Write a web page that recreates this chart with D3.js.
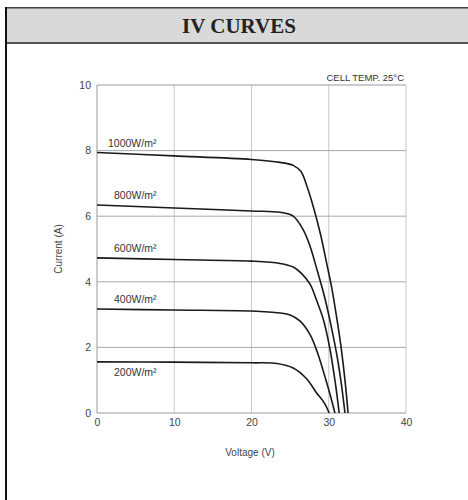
<!DOCTYPE html>
<html>
<head>
<meta charset="utf-8">
<script src="https://cdn.jsdelivr.net/npm/d3@7/dist/d3.min.js"></script>
<style>
    html, body { margin: 0; padding: 0; background: #fff; }
    svg { display: block; }
</style>
</head>
<body>
<svg id="chart" width="468" height="500"></svg>
<script>
// IV curves - one V/I list per irradiance level
const xTicks = [0, 10, 20, 30, 40];
const yTicks = [0, 2, 4, 6, 8, 10];
const seriesLabels = ['1000W/m²', '800W/m²', '600W/m²', '400W/m²', '200W/m²'];

const v1000 = [0, 10, 20, 23.7, 25.4, 26.4, 27.2, 28.0, 28.9, 29.7, 30.4, 31.1, 31.6, 32.1, 32.5];
const i1000 = [7.94, 7.84, 7.73, 7.64, 7.55, 7.36, 6.9, 6.29, 5.48, 4.6, 3.8, 2.8, 2.0, 1.0, 0];

const v800 = [0, 10, 20, 23.7, 25.4, 26.7, 27.6, 28.5, 29.5, 30.4, 31.1, 31.65, 32.1];
const i800 = [6.34, 6.25, 6.16, 6.12, 6.0, 5.58, 5.07, 4.35, 3.5, 2.55, 1.7, 0.85, 0];

const v600 = [0, 10, 20, 23.7, 25.4, 26.5, 27.6, 28.4, 29.3, 30.1, 30.8, 31.35];
const i600 = [4.73, 4.68, 4.63, 4.56, 4.45, 4.25, 3.92, 3.45, 2.85, 2.02, 1.0, 0];

const v400 = [0, 10, 20, 23.7, 25.0, 26.3, 27.6, 28.6, 29.7, 30.3, 30.8];
const i400 = [3.17, 3.14, 3.11, 3.05, 2.99, 2.8, 2.38, 1.8, 0.95, 0.45, 0];

const v200 = [0, 10, 20, 23.3, 25.4, 27.1, 28.4, 29.5, 30.05];
const i200 = [1.56, 1.55, 1.53, 1.51, 1.37, 1.05, 0.62, 0.28, 0];

const series = [
    { label: seriesLabels[0], v: v1000, i: i1000 },
    { label: seriesLabels[1], v: v800, i: i800 },
    { label: seriesLabels[2], v: v600, i: i600 },
    { label: seriesLabels[3], v: v400, i: i400 },
    { label: seriesLabels[4], v: v200, i: i200 }
];

const W = 468, H = 500;
const plot = { left: 97, right: 406, top: 85, bottom: 413 };
const font = '"Liberation Sans", Arial, sans-serif';

const svg = d3.select('#chart');

// Frame and title band
svg.append('rect').attr('x', 6).attr('y', 8).attr('width', W - 6).attr('height', 35).attr('fill', '#d9d9d9');
svg.append('rect').attr('x', 5).attr('y', 7).attr('width', W - 5).attr('height', 1.5).attr('fill', '#444');
svg.append('rect').attr('x', 5).attr('y', 42).attr('width', W - 5).attr('height', 2).attr('fill', '#555');
svg.append('rect').attr('x', 5).attr('y', 7).attr('width', 2).attr('height', H - 7).attr('fill', '#111');

svg.append('text')
    .attr('x', 239).attr('y', 33)
    .attr('text-anchor', 'middle')
    .attr('font-family', '"Liberation Serif", "Times New Roman", serif')
    .attr('font-weight', 'bold')
    .attr('font-size', '21px')
    .attr('fill', '#222')
    .text('IV CURVES');

const x = d3.scaleLinear().domain([0, 40]).range([plot.left, plot.right]);
const y = d3.scaleLinear().domain([0, 10]).range([plot.bottom, plot.top]);

// Grid
const grid = svg.append('g');
grid.selectAll('line.v').data(xTicks).enter().append('line')
    .attr('x1', d => x(d)).attr('x2', d => x(d))
    .attr('y1', plot.top).attr('y2', plot.bottom)
    .attr('stroke', d => d === 0 ? '#999' : '#c8c8c8')
    .attr('stroke-width', 1);
grid.selectAll('line.h').data(yTicks).enter().append('line')
    .attr('x1', plot.left).attr('x2', plot.right)
    .attr('y1', d => y(d)).attr('y2', d => y(d))
    .attr('stroke', d => (d === 0 || d === 10) ? '#999' : '#a8a8a8')
    .attr('stroke-width', 1);

// Axes (labels only, lines come from the grid)
const xAxis = svg.append('g')
    .attr('transform', `translate(0, ${plot.bottom + 4})`)
    .call(d3.axisBottom(x).tickValues(xTicks).tickSize(0).tickPadding(2));
const yAxis = svg.append('g')
    .attr('transform', `translate(${plot.left - 6}, 0)`)
    .call(d3.axisLeft(y).tickValues(yTicks).tickSize(0).tickPadding(0));
[xAxis, yAxis].forEach(a => {
    a.select('.domain').remove();
    a.selectAll('text').attr('font-family', font).attr('font-size', '10.5px').attr('fill', '#444');
});

svg.append('text')
    .attr('x', 250).attr('y', 456)
    .attr('text-anchor', 'middle')
    .attr('font-family', font).attr('font-size', '10px').attr('fill', '#444')
    .text('Voltage (V)');

svg.append('text')
    .attr('transform', 'translate(62, 249) rotate(-90)')
    .attr('text-anchor', 'middle')
    .attr('font-family', font).attr('font-size', '10px').attr('fill', '#444')
    .text('Current (A)');

svg.append('text')
    .attr('x', 404).attr('y', 81)
    .attr('text-anchor', 'end')
    .attr('font-family', font).attr('font-size', '9.5px').attr('fill', '#333')
    .text('CELL TEMP. 25°C');

// Curves - centripetal Catmull-Rom copes with the near-vertical drop
const line = d3.line()
    .x(d => x(d[0]))
    .y(d => y(d[1]))
    .curve(d3.curveCatmullRom.alpha(0.5));

svg.append('g').selectAll('path')
    .data(series).enter().append('path')
    .attr('d', s => line(s.v.map((v, k) => [v, s.i[k]])))
    .attr('fill', 'none')
    .attr('stroke', '#1a1a1a')
    .attr('stroke-width', 1.6);

// Irradiance labels, placed above each curve's left end
svg.append('g').selectAll('text')
    .data(series).enter().append('text')
    .attr('x', (s, k) => k === 0 ? x(0) + 11 : x(0) + 17)
    .attr('y', (s, k) => k === 4 ? y(s.i[0]) + 14 : y(s.i[0]) - 6)
    .attr('font-family', font).attr('font-size', '10.5px').attr('fill', '#333')
    .text(s => s.label);
</script>
</body>
</html>
